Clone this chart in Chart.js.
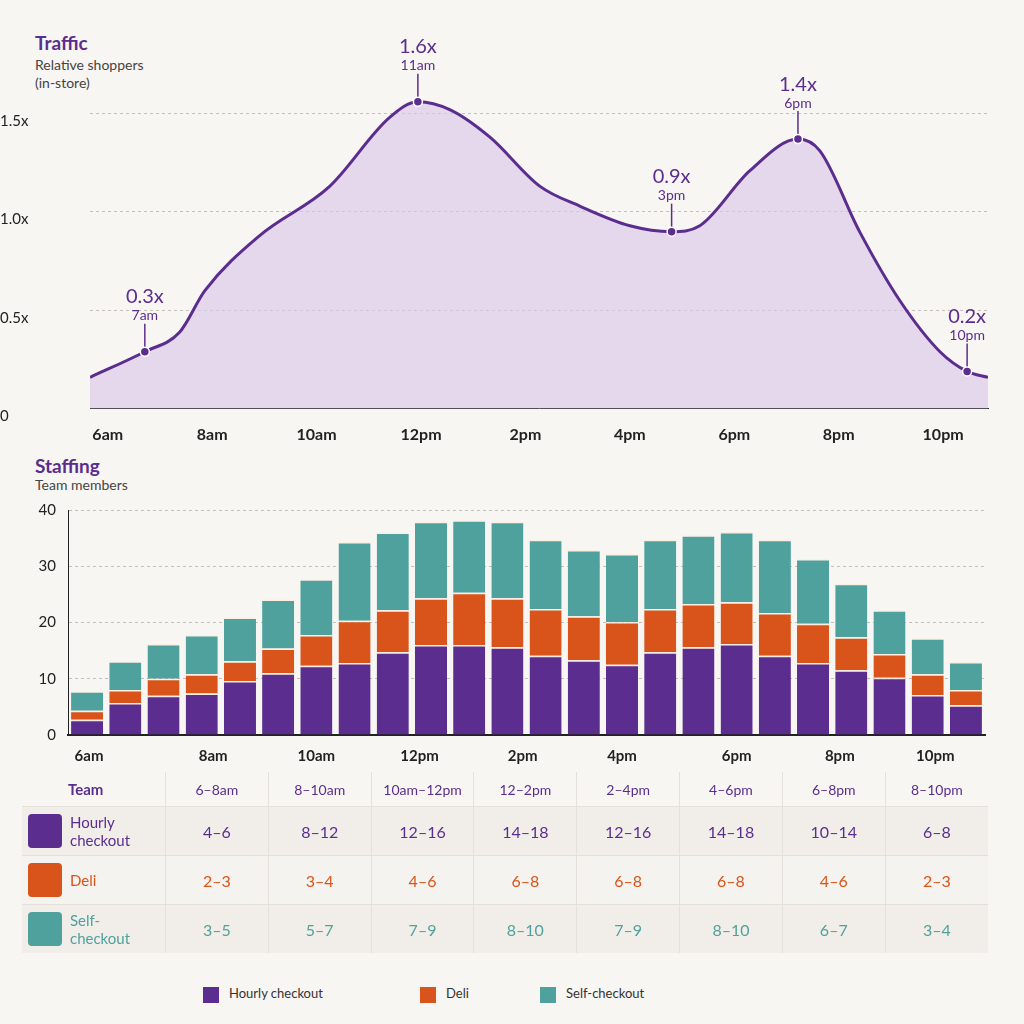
<!DOCTYPE html>
<html><head><meta charset="utf-8">
<script src="https://cdn.jsdelivr.net/npm/chart.js@4"></script>
<style>
body{margin:0;background:#f8f6f2;font-family:Lato,"Noto Sans",sans-serif;}
#wrap{position:relative;width:1024px;height:1024px;background:#f8f6f2;overflow:hidden}
.t{position:absolute;color:#5b2d8e;font-weight:bold;font-size:19px}
.s{position:absolute;color:#444;font-size:14px;line-height:18px}
table{position:absolute;left:22px;top:772px;width:966px;border-collapse:collapse;font-size:15px;table-layout:fixed}
td,th{text-align:center;border-left:1px solid #e4e0da;padding:0}
th{font-weight:normal;color:#5b2d8e;height:34px;font-size:14px}
th:first-child{font-weight:bold;font-size:15px;text-align:left;padding-left:46px;border-left:none;width:97px}
td:first-child{border-left:none;text-align:left}
tr.r td{height:48px;border-top:1px solid #e4e0da}
tr.r{background:#f1eeea}
tr.r2{background:#f5f3ef}
.ic{display:inline-block;width:34px;height:34px;border-radius:4px;vertical-align:middle;margin:0 8px 0 6px;position:relative}
.nm{display:inline-block;vertical-align:middle;line-height:18px;font-size:15px}
.lg{position:absolute;top:985px;font-size:13px;color:#333}
.lg i{display:inline-block;width:16px;height:16px;vertical-align:middle;margin-right:10px}
</style></head><body><div id="wrap">
<div class="t" style="left:35px;top:31px">Traffic</div>
<div class="s" style="left:35px;top:56px">Relative shoppers<br>(in-store)</div>
<canvas id="c1" style="position:absolute;left:0;top:0"></canvas>
<div class="t" style="left:35px;top:454px">Staffing</div>
<div class="s" style="left:35px;top:476px">Team members</div>
<canvas id="c2" style="position:absolute;left:0;top:455px"></canvas>
<table id="tb"></table>
<div class="lg" style="left:203px"><i style="background:#5b2d8e"></i>Hourly checkout</div>
<div class="lg" style="left:420px"><i style="background:#d9541a"></i>Deli</div>
<div class="lg" style="left:540px"><i style="background:#4fa19d"></i>Self-checkout</div>
</div>
<script>
const PURPLE='#5b2d8e',ORANGE='#d9541a',TEAL='#4fa19d';
// Traffic
const trafficHours=[5.66,6.71,7.38,7.86,8.91,10.25,11.40,11.94,12.55,13.32,14.28,15.04,16.0,16.8,17.34,18.3,19.22,19.64,20.4,21.17,21.94,22.46,22.86];
const trafficValues=[0.16,0.29,0.39,0.6,0.88,1.13,1.48,1.56,1.52,1.38,1.13,1.03,0.93,0.90,0.93,1.21,1.37,1.31,0.9,0.55,0.29,0.19,0.16];
const trafficTicks=[6,8,10,12,14,16,18,20,22];
const trafficTickLabels=['6am','8am','10am','12pm','2pm','4pm','6pm','8pm','10pm'];
const annIdx=[1,7,13,16,21];
const annValue=['0.3x','1.6x','0.9x','1.4x','0.2x'];
const annTime=['7am','11am','3pm','6pm','10pm'];
// Staffing
const barSlots=['6:00','6:40','7:20','8:00','8:40','9:20','10:00','10:40','11:20','12:00','12:40','13:20','14:00','14:40','15:20','16:00','16:40','17:20','18:00','18:40','19:20','20:00','20:40','21:20'];
const barTickSlots=[0.05,3.3,6,8.7,11.4,14,17,19.7,22.2];
const barTickLabels=['6am','8am','10am','12pm','2pm','4pm','6pm','8pm','10pm'];
const hourly=[2.7,5.7,7,7.4,9.6,11,12.3,12.8,14.7,16,16,15.6,14.1,13.3,12.5,14.7,15.6,16.2,14.1,12.8,11.5,10.2,7.1,5.3];
const deli=[1.6,2.3,3,3.4,3.5,4.4,5.5,7.5,7.5,8.3,9.3,8.7,8.3,7.8,7.6,7.7,7.7,7.4,7.6,7,5.9,4.2,3.7,2.7];
const selfc=[3.5,5.1,6.2,7,7.8,8.7,9.9,14,13.8,13.6,12.9,13.6,12.3,11.8,12.1,12.3,12.2,12.5,13,11.5,9.5,7.8,6.4,5];
// Table
const periods=['6–8am','8–10am','10am–12pm','12–2pm','2–4pm','4–6pm','6–8pm','8–10pm'];
const teams=['Hourly<br>checkout','Deli','Self-<br>checkout'];
const teamColors=[PURPLE,ORANGE,TEAL];
const ranges=[['4–6','8–12','12–16','14–18','12–16','14–18','10–14','6–8'],
['2–3','3–4','4–6','6–8','6–8','6–8','4–6','2–3'],
['3–5','5–7','7–9','8–10','7–9','8–10','6–7','3–4']];

Chart.defaults.font.family='Lato, "Noto Sans", sans-serif';
Chart.defaults.color='#222';
const grid={color:'#c4bfb7',drawTicks:false};

const annPlugin={id:'ann',afterDatasetsDraw(ch){
 const ctx=ch.ctx,m=ch.getDatasetMeta(0);
 annIdx.forEach((k,j)=>{const p=m.data[k];ctx.save();
  ctx.strokeStyle=PURPLE;ctx.lineWidth=1.5;ctx.beginPath();ctx.moveTo(p.x,p.y);ctx.lineTo(p.x,p.y-28);ctx.stroke();
  ctx.fillStyle=PURPLE;ctx.beginPath();ctx.arc(p.x,p.y,4.5,0,7);ctx.fill();ctx.strokeStyle='#fff';ctx.lineWidth=1.5;ctx.stroke();
  ctx.textAlign='center';ctx.textBaseline='middle';
  ctx.font='20px Lato';ctx.fillText(annValue[j],p.x,p.y-55);
  ctx.font='14px Lato';ctx.fillText(annTime[j],p.x,p.y-36);ctx.restore();});
}};
const c1=document.getElementById('c1');c1.width=1024;c1.height=452;
new Chart(c1,{type:'line',data:{datasets:[{data:trafficHours.map((h,i)=>({x:h,y:trafficValues[i]})),
 borderColor:PURPLE,borderWidth:3,backgroundColor:'rgba(218,200,234,0.65)',fill:'origin',tension:0.4,cubicInterpolationMode:'monotone',pointRadius:0}]},
 options:{responsive:false,animation:false,layout:{padding:{top:84,right:36}},plugins:{legend:{display:false},tooltip:{enabled:false}},
 scales:{x:{type:'linear',min:5.66,max:22.86,grid:{display:false},border:{color:'#222'},
   afterBuildTicks(s){s.ticks=trafficTicks.map(v=>({value:v}));},
   ticks:{font:{size:16,weight:'bold'},padding:8,callback:(v)=>trafficTickLabels[trafficTicks.indexOf(v)]}},
  y:{min:0,max:1.65,grid:grid,border:{display:false,dash:[3,3]},afterFit(s){s.width=90;},
   afterBuildTicks(s){s.ticks=[0,0.5,1,1.5].map(v=>({value:v}));},
   ticks:{font:{size:15},align:'start',crossAlign:'far',padding:0,callback:v=>v===0?'0':v.toFixed(1)+'x'}}}},
 plugins:[annPlugin]});

const barTicksPlugin={id:'bt',afterDraw(ch){
 const ctx=ch.ctx,x=ch.scales.x;const p0=x.getPixelForTick(0),p1=x.getPixelForTick(1);
 ctx.save();ctx.fillStyle='#222';ctx.font='bold 15px Lato';ctx.textAlign='center';ctx.textBaseline='middle';
 barTickSlots.forEach((v,i)=>ctx.fillText(barTickLabels[i],p0+(p1-p0)*v,x.bottom-17));ctx.restore();}};
const c2=document.getElementById('c2');c2.width=1024;c2.height=318;
const ds=(d,c)=>({data:d,backgroundColor:c,borderColor:'rgba(255,235,220,0.7)',borderWidth:{top:1.5},barPercentage:0.84,categoryPercentage:1});
new Chart(c2,{type:'bar',data:{labels:barSlots,datasets:[ds(hourly,PURPLE),ds(deli,ORANGE),ds(selfc,TEAL)]},
 options:{responsive:false,animation:false,layout:{padding:{top:55,right:39}},plugins:{legend:{display:false},tooltip:{enabled:false}},
 scales:{x:{stacked:true,grid:{display:false},border:{color:'#222',width:2},ticks:{display:false},afterFit(s){s.height=38;}},
  y:{stacked:true,min:0,max:40,grid:grid,border:{color:'#222',dash:[3,3]},afterFit(s){s.width=68;},ticks:{stepSize:10,font:{size:15},padding:12}}}},
 plugins:[barTicksPlugin]});

let h='<tr><th>Team</th>'+periods.map(p=>'<th>'+p+'</th>').join('')+'</tr>';
teams.forEach((t,i)=>{h+='<tr class="r '+(i%2?'r2':'')+'"><td><span class="ic" style="background:'+teamColors[i]+'"></span><span class="nm" style="color:'+teamColors[i]+'">'+t+'</span></td>'+
 ranges[i].map(r=>'<td style="color:'+teamColors[i]+';font-size:16px">'+r+'</td>').join('')+'</tr>';});
document.getElementById('tb').innerHTML=h;
</script></body></html>
